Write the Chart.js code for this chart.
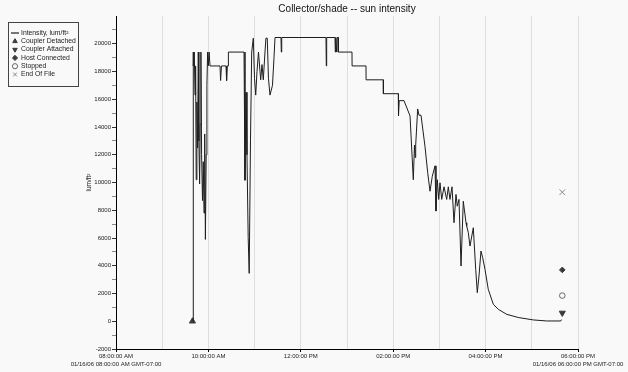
<!DOCTYPE html>
<html>
<head>
<meta charset="utf-8">
<script src="https://cdn.jsdelivr.net/npm/chart.js@4/dist/chart.umd.min.js"></script>
<style>
    body { margin: 0; background: #f9f9f9; overflow: hidden; }
</style>
</head>
<body>
<canvas id="sunChart" width="628" height="372"></canvas>
<script>
// hours since midnight, 01/16/06
const times = [
    9.667, 9.668, 9.678, 9.695, 9.710, 9.723, 9.736, 9.751, 9.766, 9.781,
    9.794, 9.810, 9.823, 9.838, 9.853, 9.872, 9.889, 9.905, 9.920, 9.935,
    9.952, 9.968, 9.983, 9.998, 10.015, 10.035, 10.251, 10.264, 10.283, 10.381,
    10.394, 10.409, 10.431, 10.433, 10.771, 10.792, 10.814, 10.835, 10.861, 10.883,
    10.911, 10.937, 10.972, 10.998, 11.024, 11.052, 11.084, 11.132, 11.160, 11.188,
    11.225, 11.245, 11.274, 11.300, 11.333, 11.387, 11.420, 11.442, 11.571, 11.578,
    11.587, 12.545, 12.552, 12.560, 12.740, 12.747, 12.755, 12.777, 12.784, 12.810,
    12.812, 13.108, 13.110, 13.411, 13.413, 13.786, 13.788, 14.110, 14.115, 14.130,
    14.234, 14.364, 14.379, 14.435, 14.461, 14.476, 14.487, 14.530, 14.558, 14.602,
    14.688, 14.747, 14.797, 14.846, 14.905, 14.926, 14.955, 14.985, 15.013, 15.050,
    15.100, 15.158, 15.193, 15.229, 15.273, 15.316, 15.359, 15.387, 15.424, 15.468,
    15.517, 15.576, 15.591, 15.626, 15.662, 15.734, 15.786, 15.820, 15.857, 15.900,
    15.937, 15.987, 16.058, 16.167, 16.275, 16.457, 16.708, 17.032, 17.323, 17.626,
    17.645
];
const intensity = [
    0, 19400, 18400, 19400, 16300, 18400, 10200, 15800, 12500, 19400,
    13000, 9900, 14200, 19400, 12000, 8700, 11500, 7800, 13500, 5900,
    12000, 17000, 19400, 18400, 19400, 18400, 18400, 17350, 18400, 18400,
    17350, 18400, 18400, 19400, 19400, 10160, 16500, 12000, 6040, 3450,
    13000, 19400, 20400, 17500, 16300, 18000, 19400, 17400, 18500, 17400,
    19400, 20400, 20400, 17500, 16300, 17000, 19000, 20450, 20450, 19400,
    20450, 20450, 18400, 20450, 20450, 19400, 20450, 19400, 20450, 20450,
    19400, 19400, 18400, 18400, 17400, 17400, 16400, 16400, 14800, 15900,
    15900, 14800, 14800, 10200, 12700, 11800, 12700, 15300, 14850, 14850,
    12600, 10700, 9370, 10450, 11200, 7940, 10200, 8780, 9980, 8780,
    9690, 8780, 9690, 8780, 9690, 7100, 9140, 8290, 8780, 3980,
    8650, 7100, 6860, 6380, 5420, 6740, 3740, 2060, 3260, 5060,
    4580, 3740, 2300, 1220, 860, 500, 270, 95, 20, 20,
    120
];

// event markers
const coupleDetached = [{ x: 9.655, y: 0 }];
const coupleAttached = [{ x: 17.66, y: 600 }];
const hostConnected = [{ x: 17.66, y: 3700 }];
const stopped = [{ x: 17.66, y: 1850 }];
const endOfFile = [{ x: 17.66, y: 9300 }];

const tickHours = [8, 10, 12, 14, 16, 18];
const tickLabels = ['08:00:00 AM', '10:00:00 AM', '12:00:00 PM', '02:00:00 PM', '04:00:00 PM', '06:00:00 PM'];
const startStamp = '01/16/06 08:00:00 AM GMT-07:00';
const endStamp = '01/16/06 06:00:00 PM GMT-07:00';

const intensityPoints = times.map((t, i) => ({ x: t, y: intensity[i] }));

Chart.defaults.font.family = "'Liberation Sans', Arial, sans-serif";
Chart.defaults.color = '#222';

const backgroundPlugin = {
    id: 'bg',
    beforeDraw(chart) {
        const ctx = chart.ctx;
        ctx.save();
        ctx.fillStyle = '#f9f9f9';
        ctx.fillRect(0, 0, chart.width, chart.height);
        ctx.restore();
    }
};

// boxed legend in the top-left corner, drawn from the datasets
const boxLegendPlugin = {
    id: 'boxLegend',
    afterDraw(chart) {
        const ctx = chart.ctx;
        ctx.save();
        ctx.fillStyle = '#f9f9f9';
        ctx.fillRect(8.5, 22.5, 70, 64);
        ctx.strokeStyle = '#444';
        ctx.lineWidth = 1;
        ctx.strokeRect(8.5, 22.5, 70, 64);
        ctx.font = "6.8px 'Liberation Sans', Arial, sans-serif";
        ctx.textBaseline = 'middle';
        chart.data.datasets.forEach((ds, i) => {
            const y = 33 + i * 8.3;
            ctx.strokeStyle = ds.borderColor;
            ctx.fillStyle = ds.backgroundColor || ds.borderColor;
            if (ds.showLine) {
                ctx.lineWidth = 1.2;
                ctx.beginPath();
                ctx.moveTo(11, y);
                ctx.lineTo(19, y);
                ctx.stroke();
            } else {
                ctx.lineWidth = 1;
                Chart.helpers.drawPoint(ctx, {
                    pointStyle: ds.pointStyle,
                    rotation: ds.rotation || 0,
                    radius: 2.6,
                    borderWidth: 1
                }, 15, y);
            }
            ctx.fillStyle = '#222';
            ctx.fillText(ds.label, 21, y);
        });
        ctx.restore();
    }
};

// second line of date stamps under the first and last ticks
const stampPlugin = {
    id: 'stamps',
    afterDraw(chart) {
        const ctx = chart.ctx;
        const xs = chart.scales.x;
        ctx.save();
        ctx.font = "6px 'Liberation Sans', Arial, sans-serif";
        ctx.fillStyle = '#222';
        ctx.textAlign = 'center';
        ctx.textBaseline = 'middle';
        ctx.fillText(startStamp, xs.getPixelForValue(tickHours[0]), 364);
        ctx.fillText(endStamp, xs.getPixelForValue(tickHours[tickHours.length - 1]), 364);
        ctx.restore();
    }
};

const sunChart = new Chart(document.getElementById('sunChart').getContext('2d'), {
    type: 'scatter',
    data: {
        datasets: [{
            label: 'Intensity, lum/ft\u00b2',
            data: intensityPoints,
            showLine: true,
            borderColor: '#1e1e1e',
            backgroundColor: '#1e1e1e',
            borderWidth: 1,
            pointRadius: 0,
            tension: 0
        }, {
            label: 'Coupler Detached',
            data: coupleDetached,
            pointStyle: 'triangle',
            pointRadius: 3.5,
            borderColor: '#3a3a3a',
            backgroundColor: '#3a3a3a'
        }, {
            label: 'Coupler Attached',
            data: coupleAttached,
            pointStyle: 'triangle',
            rotation: 180,
            pointRotation: 180,
            pointRadius: 3.5,
            borderColor: '#3a3a3a',
            backgroundColor: '#3a3a3a'
        }, {
            label: 'Host Connected',
            data: hostConnected,
            pointStyle: 'rectRot',
            pointRadius: 2.8,
            borderColor: '#3a3a3a',
            backgroundColor: '#3a3a3a'
        }, {
            label: 'Stopped',
            data: stopped,
            pointStyle: 'circle',
            pointRadius: 2.8,
            borderColor: '#666',
            backgroundColor: 'rgba(0,0,0,0)'
        }, {
            label: 'End Of File',
            data: endOfFile,
            pointStyle: 'crossRot',
            pointRadius: 4,
            borderColor: '#888',
            backgroundColor: '#888'
        }]
    },
    options: {
        responsive: false,
        animation: false,
        devicePixelRatio: 1,
        layout: { padding: { left: 85, right: 50, top: 0, bottom: 0 } },
        plugins: {
            legend: { display: false },
            tooltip: { enabled: false },
            title: {
                display: true,
                text: 'Collector/shade -- sun intensity',
                fullSize: false,
                color: '#111',
                font: { size: 10, weight: 'normal' },
                padding: { top: 3, bottom: 1 }
            }
        },
        scales: {
            x: {
                type: 'linear',
                min: 8,
                max: 18,
                afterFit(scale) { scale.height = 23; },
                border: { display: true, color: '#000', width: 1 },
                grid: {
                    color: '#dedede',
                    lineWidth: 1,
                    tickLength: 3,
                    tickColor: (c) => (c.tick && c.tick.value % 2 === 0) ? '#000' : 'rgba(0,0,0,0)'
                },
                ticks: {
                    stepSize: 1,
                    autoSkip: false,
                    maxRotation: 0,
                    padding: 1,
                    font: { size: 6 },
                    callback: (value) => {
                        const idx = tickHours.indexOf(value);
                        return idx >= 0 ? tickLabels[idx] : '';
                    }
                }
            },
            y: {
                min: -2000,
                max: 22000,
                afterFit(scale) { scale.width = 31; },
                border: { display: true, color: '#000', width: 1 },
                grid: {
                    drawOnChartArea: false,
                    tickLength: 4,
                    tickColor: (c) => {
                        if (!c.tick || c.tick.value > 21000) return 'rgba(0,0,0,0)';
                        return c.tick.value % 2000 === 0 ? '#333' : '#888';
                    }
                },
                title: {
                    display: true,
                    text: 'lum/ft\u00b2',
                    padding: 0,
                    font: { size: 6.5 }
                },
                ticks: {
                    stepSize: 1000,
                    autoSkip: false,
                    padding: 1,
                    font: { size: 6 },
                    callback: (value) => (value % 2000 === 0 && value <= 20000) ? String(value) : ''
                }
            }
        }
    },
    plugins: [backgroundPlugin, boxLegendPlugin, stampPlugin]
});
</script>
</body>
</html>
